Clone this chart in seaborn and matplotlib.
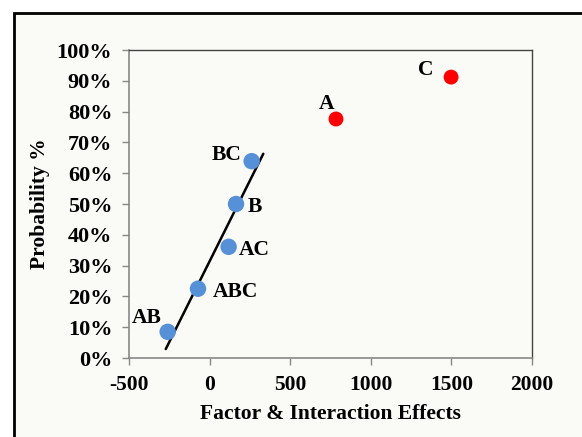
import matplotlib
matplotlib.use("Agg")
import matplotlib.pyplot as plt
import seaborn as sns
import pandas as pd
from matplotlib.patches import Rectangle
from matplotlib.ticker import FuncFormatter

# Data
effects = ["AB", "ABC", "AC", "B", "BC", "A", "C"]
effect_values = [-260, -72, 118, 164, 261, 784, 1498]
probability = [8.5, 22.5, 36.1, 50.0, 63.9, 77.6, 91.2]
significant = ["no", "no", "no", "no", "no", "yes", "yes"]
fit_x = [-272, 333]
fit_y = [2.9, 66.3]
x_ticks = [-500, 0, 500, 1000, 1500, 2000]
y_ticks = [0, 10, 20, 30, 40, 50, 60, 70, 80, 90, 100]

df = pd.DataFrame({"effect": effects, "value": effect_values,
                   "prob": probability, "sig": significant})
fit_df = pd.DataFrame({"x": fit_x, "y": fit_y})

sns.set_theme(style="white")
plt.rcParams["font.family"] = ["Liberation Serif", "DejaVu Serif"]
plt.rcParams["font.weight"] = "bold"
plt.rcParams["axes.unicode_minus"] = False
plt.rcParams["text.color"] = "black"
plt.rcParams["axes.labelcolor"] = "black"

FS = 15.5
bg = "#FAFAF6"
fig = plt.figure(figsize=(5.82, 4.37), dpi=100)
fig.patch.set_facecolor("white")
# outer frame (extends beyond right/bottom edge)
fig.patches.append(Rectangle((13.5 / 582, -0.05), 1.2, (437 - 12.5) / 437 + 0.05,
                             transform=fig.transFigure, facecolor=bg,
                             edgecolor="black", linewidth=2.0, zorder=-10))

ax = fig.add_axes([129 / 582, 1 - 358 / 437, (532 - 129) / 582, (358 - 50) / 437])
ax.set_zorder(1)
ax.set_facecolor(bg)

sns.lineplot(data=fit_df, x="x", y="y", ax=ax, color="black", linewidth=1.8, zorder=2)
sns.scatterplot(data=df[df.sig == "no"], x="value", y="prob", ax=ax,
                color="#5691D8", s=140, edgecolor="none", zorder=3)
sns.scatterplot(data=df[df.sig == "yes"], x="value", y="prob", ax=ax,
                color="#FF0000", s=115, edgecolor="none", zorder=3)

offsets = {"AB": (-21, 14), "ABC": (37, -3), "AC": (26, -3), "B": (19, -3),
           "BC": (-25, 6), "A": (-9, 15), "C": (-25, 7)}
for name, xv, yv in zip(effects, effect_values, probability):
    ax.annotate(name, (xv, yv), xytext=offsets[name], textcoords="offset pixels",
                ha="center", va="center", fontsize=FS, fontweight="bold",
                color="black")

ax.set_xlim(-500, 2000)
ax.set_ylim(0, 100)
ax.set_xticks(x_ticks)
ax.set_yticks(y_ticks)
ax.xaxis.set_major_formatter(FuncFormatter(lambda v, p: f"{int(v)}"))
ax.yaxis.set_major_formatter(FuncFormatter(lambda v, p: f"{int(v)}%"))
ax.tick_params(axis="both", direction="out", length=5, width=1, color="#888888",
               labelcolor="black", labelsize=FS, pad=7, bottom=True, left=True)
ax.tick_params(axis="y", labelsize=FS + 0.5)
for lbl in ax.get_xticklabels() + ax.get_yticklabels():
    lbl.set_fontweight("bold")

ax.set_xlabel("Factor & Interaction Effects", fontsize=FS, fontweight="bold", labelpad=7)
ax.set_ylabel("Probability %", fontsize=FS, fontweight="bold", labelpad=5)

for side in ["left", "bottom"]:
    ax.spines[side].set_color("#888888")
    ax.spines[side].set_linewidth(1.2)
for side in ["top", "right"]:
    ax.spines[side].set_color("#444444")
    ax.spines[side].set_linewidth(1.0)

fig.savefig("out.png", dpi=100, facecolor=fig.get_facecolor())
